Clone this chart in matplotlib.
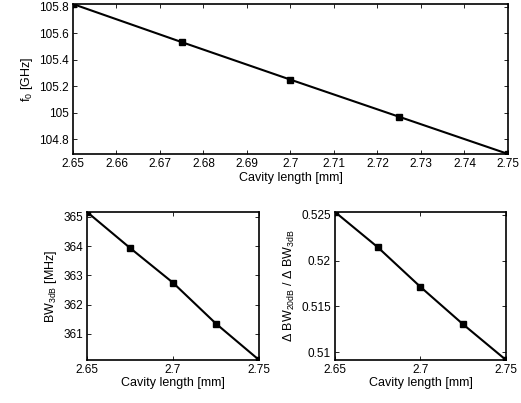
import matplotlib
matplotlib.use('Agg')
import matplotlib.pyplot as plt
from matplotlib.ticker import FuncFormatter

plt.rcParams['font.family'] = ['Liberation Sans', 'DejaVu Sans']
plt.rcParams['font.size'] = 8
plt.rcParams['mathtext.fontset'] = 'custom'
plt.rcParams['mathtext.rm'] = 'Liberation Sans'
plt.rcParams['mathtext.it'] = 'Liberation Sans'

cavity = [2.65, 2.675, 2.7, 2.725, 2.75]
f0 = [105.82, 105.533, 105.25, 104.97, 104.69]
bw3db = [365.17, 363.94, 362.75, 361.35, 360.11]
ratio = [0.5253, 0.52146, 0.51713, 0.51304, 0.50917]

fig = plt.figure(figsize=(5.21, 4.03), dpi=100)
ax1 = fig.add_axes([0.140, 0.618, 0.835, 0.372])
ax2 = fig.add_axes([0.167, 0.107, 0.330, 0.367])
ax3 = fig.add_axes([0.643, 0.107, 0.328, 0.367])

gfmt = FuncFormatter(lambda v, p: '%g' % round(v, 6))

for ax, y in [(ax1, f0), (ax2, bw3db), (ax3, ratio)]:
    ax.plot(cavity, y, color='black', lw=1.5, marker='s', ms=4.5)
    ax.set_xlim(min(cavity), max(cavity))
    ax.set_ylim(min(y), max(y))
    ax.tick_params(direction='in', top=True, right=True, length=3, width=0.6, pad=3,
                   labelsize=8.5)
    ax.yaxis.set_major_formatter(gfmt)
    ax.xaxis.set_major_formatter(gfmt)
    for s in ax.spines.values():
        s.set_linewidth(1.2)
    ax.set_xlabel('Cavity length [mm]', fontsize=9, labelpad=1)

ax1.set_xticks([2.65 + 0.01 * i for i in range(11)])
ax1.set_yticks([104.8, 105.0, 105.2, 105.4, 105.6, 105.8])
ax1.set_ylabel(r'f$_0$ [GHz]', fontsize=9, labelpad=3)

ax2.set_xticks([2.65, 2.7, 2.75])
ax2.set_yticks([361, 362, 363, 364, 365])
ax2.set_ylabel(r'BW$_{\mathregular{3dB}}$ [MHz]', fontsize=9, labelpad=3)

ax3.set_xticks([2.65, 2.7, 2.75])
ax3.set_yticks([0.51, 0.515, 0.52, 0.525])
ax3.set_ylabel('\u0394 BW$_{\\mathregular{20dB}}$ / \u0394 BW$_{\\mathregular{3dB}}$',
               fontsize=9, labelpad=3)

fig.savefig('out.png', dpi=100)
